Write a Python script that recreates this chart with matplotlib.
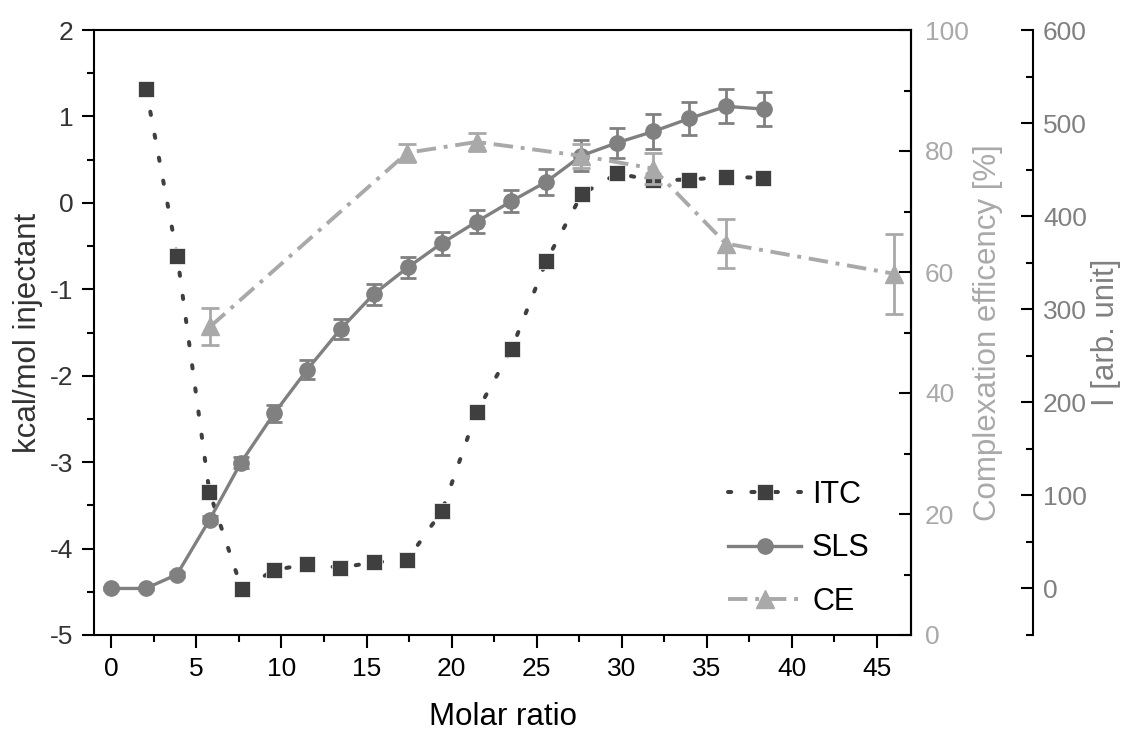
import matplotlib
matplotlib.use('Agg')
import matplotlib.pyplot as plt
from matplotlib.ticker import MultipleLocator

plt.rcParams['font.family'] = ['Liberation Sans', 'DejaVu Sans']
plt.rcParams['axes.unicode_minus'] = False

# ITC: heat per injection (left axis)
molar_itc = [2.04, 3.88, 5.76, 7.67, 9.57, 11.51, 13.45, 15.43, 17.39, 19.45,
             21.47, 23.53, 25.57, 27.65, 29.75, 31.84, 33.98, 36.14, 38.33]
itc = [1.32, -0.62, -3.34, -4.47, -4.25, -4.18, -4.22, -4.16, -4.13, -3.56,
       -2.42, -1.69, -0.67, 0.10, 0.34, 0.26, 0.27, 0.30, 0.29]

# SLS: scattered intensity (far right axis)
molar_sls = [0, 2.02, 3.86, 5.78, 7.61, 9.57, 11.51, 13.49, 15.41, 17.43,
             19.43, 21.47, 23.51, 25.57, 27.63, 29.75, 31.86, 33.98, 36.14, 38.37]
sls = [0, 0, 15, 74, 135, 188, 235, 279, 316, 345,
       371, 394, 416, 437, 465, 479, 491, 505, 518, 515]
sls_err = [2, 2, 3, 4, 6, 9, 10, 10.6, 11.5, 11.6,
           12.5, 12.2, 11.8, 13.8, 16.5, 16, 18.8, 18, 18.3, 18.5]

# CE: complexation efficiency (middle right axis)
molar_ce = [5.82, 17.39, 21.47, 27.63, 31.84, 36.12, 46.02]
ce = [51.0, 79.7, 81.5, 79.2, 77.1, 64.7, 59.7]
ce_err = [3.1, 1.5, 1.5, 2.0, 2.6, 4.1, 6.6]

c_itc = '#3f3f3f'
c_sls = '#808080'
c_ce = '#a9a9a9'

fig = plt.figure(figsize=(11.36, 7.31), dpi=100)
ax = fig.add_axes([94.3 / 1136, 96 / 731, 816.7 / 1136, 605 / 731])
ax_sls = ax.twinx()
ax_ce = ax.twinx()

for a in (ax, ax_sls, ax_ce):
    for s in a.spines.values():
        s.set_linewidth(1.5)
        s.set_color('black')

# left axis
ax.set_xlim(-1, 47)
ax.set_ylim(-5, 2)
ax.xaxis.set_major_locator(MultipleLocator(5))
ax.xaxis.set_minor_locator(MultipleLocator(2.5))
ax.yaxis.set_major_locator(MultipleLocator(1))
ax.yaxis.set_minor_locator(MultipleLocator(0.5))
ax.tick_params(which='major', direction='out', length=9, width=1.5, labelsize=19, pad=6)
ax.tick_params(which='minor', direction='out', length=5, width=1.5)
ax.tick_params(axis='x', which='both', top=False, pad=7)
ax.tick_params(axis='y', which='both', right=False, labelcolor='#333333')
ax.set_xlabel('Molar ratio', fontsize=22.5, labelpad=15)
ax.set_ylabel('kcal/mol injectant', fontsize=22.5, color='#333333', labelpad=5)

# far right axis (SLS)
ax_sls.spines['right'].set_position(('axes', 1.149))
for k in ('left', 'top', 'bottom'):
    ax_sls.spines[k].set_visible(False)
ax_sls.set_ylim(-50, 600)
ax_sls.yaxis.set_major_locator(MultipleLocator(100))
ax_sls.yaxis.set_minor_locator(MultipleLocator(50))
ax_sls.tick_params(which='major', direction='in', length=9, width=1.5, labelsize=19,
                   labelcolor=c_sls, pad=7.5)
ax_sls.tick_params(which='minor', direction='in', length=5, width=1.5)
ax_sls.set_ylabel('I [arb. unit]', fontsize=22.5, color=c_sls, labelpad=3)

# middle right axis (CE)
for k in ('left', 'top', 'bottom'):
    ax_ce.spines[k].set_visible(False)
ax_ce.set_ylim(0, 100)
ax_ce.yaxis.set_major_locator(MultipleLocator(20))
ax_ce.yaxis.set_minor_locator(MultipleLocator(10))
ax_ce.tick_params(which='major', direction='in', length=9, width=1.5, labelsize=19,
                  labelcolor=c_ce, pad=10)
ax_ce.tick_params(which='minor', direction='in', length=5, width=1.5)
ax_ce.set_ylabel('Complexation efficency [%]', fontsize=22.5, color=c_ce, labelpad=3)

# data
l_itc, = ax.plot(molar_itc, itc, color=c_itc, lw=2.9, linestyle=(0, (0.8, 5)),
                 dash_capstyle='round', marker='s', markersize=11, mec='white',
                 mew=0.5, label='ITC')

sls_cont = ax_sls.errorbar(molar_sls, sls, yerr=sls_err, color=c_sls, lw=2.4,
                           marker='o', markersize=11, mec=c_sls, capsize=6,
                           capthick=2, elinewidth=2, label='SLS')
ce_cont = ax_ce.errorbar(molar_ce, ce, yerr=ce_err, color=c_ce, lw=2.8,
                         linestyle=(0, (5, 2, 1, 2)), marker='^', markersize=13,
                         mec=c_ce, capsize=6.5, capthick=2, elinewidth=2, label='CE')

ax_ce.legend([l_itc, sls_cont[0], ce_cont[0]], ['ITC', 'SLS', 'CE'],
             loc='upper left', bbox_to_anchor=(0.776, 0.257), frameon=False,
             fontsize=22, handlelength=2.4, handletextpad=0.35, labelspacing=0.78,
             borderpad=0, borderaxespad=0)

fig.savefig('out.png', dpi=100)
